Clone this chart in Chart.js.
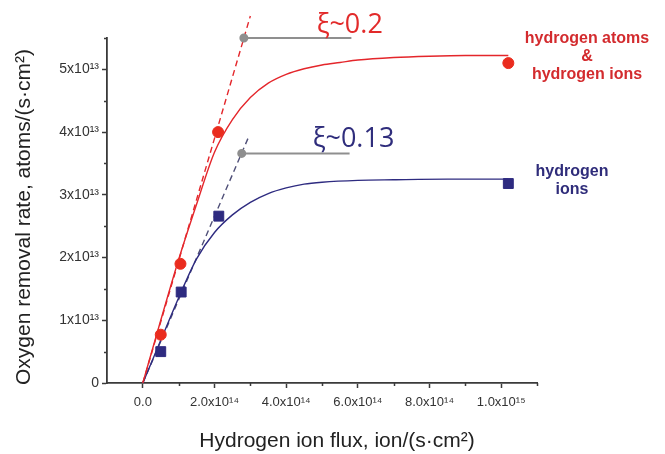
<!DOCTYPE html>
<html>
<head>
<meta charset="utf-8">
<script src="https://cdn.jsdelivr.net/npm/chart.js@4.4.0/dist/chart.umd.min.js"></script>
<style>
  html, body { margin: 0; padding: 0; background: #fff; }
</style>
</head>
<body>
<canvas id="removalChart" width="665" height="454"></canvas>
<script>
// measured points, flux in ion/(s*cm2), rate in atoms/(s*cm2)
const fluxBoth = [0.5e14, 1.05e14, 2.1e14, 10.2e14];
const rateBoth = [0.77e13, 1.9e13, 4.0e13, 5.1e13];
const fluxIons = [0.5e14, 1.07e14, 2.12e14, 10.2e14];
const rateIons = [0.5e13, 1.45e13, 2.66e13, 3.18e13];

// fitted curves
const fitBothX = [0, 0.5e14, 1.0e14, 1.5e14, 2.0e14, 2.5e14, 3.0e14, 3.5e14, 4.0e14, 4.5e14, 5.0e14, 5.5e14, 6.0e14, 7.0e14, 8.0e14, 9.0e14, 10.2e14];
const fitBothY = [0, 1.0e13, 1.97e13, 2.85e13, 3.68e13, 4.2e13, 4.55e13, 4.78e13, 4.92e13, 5.01e13, 5.07e13, 5.11e13, 5.15e13, 5.19e13, 5.21e13, 5.22e13, 5.22e13];
const fitIonsX = [0, 0.5e14, 1.0e14, 1.5e14, 2.0e14, 2.5e14, 3.0e14, 3.5e14, 4.0e14, 4.5e14, 5.0e14, 6.0e14, 7.0e14, 8.5e14, 10.2e14];
const fitIonsY = [0, 0.68e13, 1.36e13, 1.98e13, 2.4e13, 2.68e13, 2.88e13, 3.02e13, 3.11e13, 3.17e13, 3.2e13, 3.23e13, 3.24e13, 3.25e13, 3.25e13];

// initial slopes (xi) and the marker lines next to them
const slopeBothX = [0, 3.0e14];
const slopeBothY = [0, 5.85e13];
const slopeIonsX = [0, 2.95e14];
const slopeIonsY = [0, 3.92e13];
const markBothX = [2.82e14, 5.82e14];
const markBothY = [5.5e13, 5.5e13];
const markIonsX = [2.76e14, 5.77e14];
const markIonsY = [3.66e13, 3.66e13];

// axes
const xTickValues = [0, 2e14, 4e14, 6e14, 8e14, 1e15];
const xTickLabels = ['0.0', '2.0x10\u00b9\u2074', '4.0x10\u00b9\u2074', '6.0x10\u00b9\u2074', '8.0x10\u00b9\u2074', '1.0x10\u00b9\u2075'];
const xMinorValues = [1e14, 3e14, 5e14, 7e14, 9e14, 1.1e15];
const yTickValues = [0, 1e13, 2e13, 3e13, 4e13, 5e13];
const yTickLabels = ['0', '1x10\u00b9\u00b3', '2x10\u00b9\u00b3', '3x10\u00b9\u00b3', '4x10\u00b9\u00b3', '5x10\u00b9\u00b3'];
const yMinorValues = [0.5e13, 1.5e13, 2.5e13, 3.5e13, 4.5e13, 5.5e13];
const xTitle = 'Hydrogen ion flux, ion/(s\u00b7cm\u00b2)';
const yTitle = 'Oxygen removal rate, atoms/(s\u00b7cm\u00b2)';

const red = '#e4262b';
const navy = '#2e2b80';
const grey = '#8f8f8f';
const axisColor = '#3a3a3a';
const sans = '"Liberation Sans", Arial, sans-serif';

const toPoints = (xs, ys) => xs.map((x, i) => ({x: x, y: ys[i]}));

const lineSet = (xs, ys, color, extra) => Object.assign({
  data: toPoints(xs, ys),
  showLine: true,
  borderColor: color,
  backgroundColor: color,
  borderWidth: 1.4,
  pointRadius: 0,
  order: 2
}, extra);

// minor ticks, axis titles and the text notes
const notes = {
  id: 'notes',
  afterDraw(chart) {
    const {ctx, scales: {x, y}, chartArea} = chart;
    ctx.save();
    ctx.strokeStyle = axisColor;
    ctx.lineWidth = 1.5;
    ctx.beginPath();
    xMinorValues.forEach(v => {
      const px = Math.round(x.getPixelForValue(v)) + 0.5;
      ctx.moveTo(px, chartArea.bottom);
      ctx.lineTo(px, chartArea.bottom + 3);
    });
    yMinorValues.forEach(v => {
      const py = Math.round(y.getPixelForValue(v)) + 0.5;
      ctx.moveTo(chartArea.left, py);
      ctx.lineTo(chartArea.left - 3, py);
    });
    ctx.stroke();

    // axis titles
    ctx.fillStyle = '#222';
    ctx.font = '21px ' + sans;
    ctx.textAlign = 'center';
    ctx.textBaseline = 'middle';
    ctx.fillText(xTitle, chartArea.left + 230, 441);
    ctx.save();
    ctx.translate(24, 217);
    ctx.rotate(-Math.PI / 2);
    ctx.fillText(yTitle, 0, 0);
    ctx.restore();

    ctx.textBaseline = 'alphabetic';
    ctx.textAlign = 'left';
    ctx.font = '27px "Open Sans", "Noto Sans", sans-serif';
    ctx.fillStyle = '#e22a2a';
    ctx.fillText('\u03be~0.2', x.getPixelForValue(4.85e14), y.getPixelForValue(5.58e13));
    ctx.fillStyle = '#2f2d7c';
    ctx.fillText('\u03be~0.13', x.getPixelForValue(4.74e14), y.getPixelForValue(3.77e13));

    ctx.textAlign = 'center';
    ctx.textBaseline = 'middle';
    ctx.font = 'bold 16px ' + sans;
    ctx.fillStyle = '#d32b2e';
    const rx = chartArea.right + 50;
    ctx.fillText('hydrogen atoms', rx, 39);
    ctx.fillText('&', rx, 57);
    ctx.fillText('hydrogen ions', rx, 75);
    ctx.fillStyle = '#2f2c7a';
    const bx = chartArea.right + 35;
    ctx.fillText('hydrogen', bx, 172);
    ctx.fillText('ions', bx, 190);
    ctx.restore();
  }
};

const config = {
  type: 'scatter',
  data: {
    datasets: [
      {
        label: 'hydrogen atoms & hydrogen ions',
        data: toPoints(fluxBoth, rateBoth),
        pointStyle: 'circle',
        pointRadius: 5.5,
        backgroundColor: '#ea2c1e',
        borderColor: '#ea2c1e',
        order: 0
      },
      {
        label: 'hydrogen ions',
        data: toPoints(fluxIons, rateIons),
        pointStyle: 'rect',
        pointRadius: 7,
        backgroundColor: navy,
        borderColor: navy,
        order: 0
      },
      lineSet(fitBothX, fitBothY, red, {cubicInterpolationMode: 'monotone'}),
      lineSet(fitIonsX, fitIonsY, navy, {cubicInterpolationMode: 'monotone'}),
      lineSet(slopeBothX, slopeBothY, red, {borderDash: [6, 4], clip: false, order: 3}),
      lineSet(slopeIonsX, slopeIonsY, '#4f4f78', {borderDash: [6, 4], clip: false, order: 3}),
      lineSet(markBothX, markBothY, grey, {borderWidth: 2, pointRadius: [3.5, 0], clip: false, order: 1}),
      lineSet(markIonsX, markIonsY, grey, {borderWidth: 2, pointRadius: [3.5, 0], order: 1})
    ]
  },
  options: {
    responsive: false,
    animation: false,
    layout: {padding: {top: 38, right: 128, left: 0, bottom: 0}},
    plugins: {
      legend: {display: false},
      tooltip: {enabled: false}
    },
    scales: {
      x: {
        type: 'linear',
        min: -1e14,
        max: 1.1e15,
        afterBuildTicks: s => { s.ticks = xTickValues.map(v => ({value: v})); },
        afterFit: s => { s.height = 71; },
        ticks: {
          autoSkip: false,
          maxRotation: 0,
          padding: 7,
          color: '#333',
          font: {family: sans, size: 13},
          callback: v => xTickLabels[xTickValues.indexOf(v)]
        },
        grid: {drawOnChartArea: false, tickLength: 5, tickColor: axisColor, tickWidth: 1.5},
        border: {display: true, color: axisColor, width: 1.8}
      },
      y: {
        type: 'linear',
        min: 0,
        max: 5.5e13,
        afterBuildTicks: s => { s.ticks = yTickValues.map(v => ({value: v})); },
        afterFit: s => { s.width = 107; },
        ticks: {
          autoSkip: false,
          padding: 3,
          color: '#333',
          font: {family: sans, size: 14},
          callback: v => yTickLabels[yTickValues.indexOf(v)]
        },
        grid: {drawOnChartArea: false, tickLength: 5, tickColor: axisColor, tickWidth: 1.5},
        border: {display: true, color: axisColor, width: 1.8}
      }
    }
  },
  plugins: [notes]
};

const removalChart = new Chart(document.getElementById('removalChart'), config);
</script>
</body>
</html>
